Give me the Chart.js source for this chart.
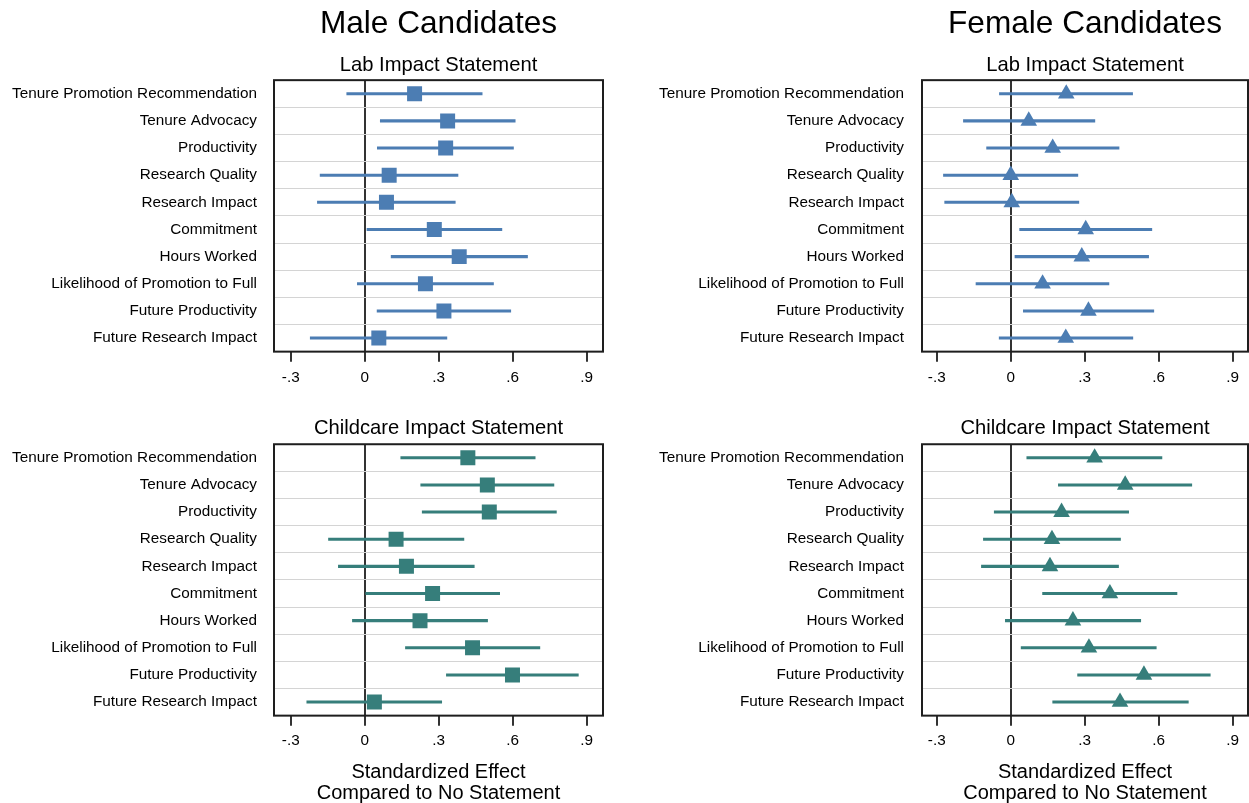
<!DOCTYPE html>
<html>
<head>
<meta charset="utf-8">
<script src="https://cdn.jsdelivr.net/npm/chart.js@4.4.0/dist/chart.umd.min.js"></script>
<style>
  body { margin: 0; background: #fff; width: 1249px; height: 803px; position: relative; overflow: hidden; }
  canvas { position: absolute; }
</style>
</head>
<body>
<canvas id="maleLab" width="606" height="395" style="left:0;top:0"></canvas>
<canvas id="femaleLab" width="609" height="395" style="left:640px;top:0"></canvas>
<canvas id="maleCare" width="606" height="411" style="left:0;top:395px"></canvas>
<canvas id="femaleCare" width="609" height="411" style="left:640px;top:395px"></canvas>
<script>
const categories = [
  'Tenure Promotion Recommendation', 'Tenure Advocacy', 'Productivity', 'Research Quality',
  'Research Impact', 'Commitment', 'Hours Worked', 'Likelihood of Promotion to Full',
  'Future Productivity', 'Future Research Impact'
]
const xTicks = [-0.3, 0, 0.3, 0.6, 0.9]

// male candidates, lab impact statement
const maleLabEst = [0.202, 0.336, 0.328, 0.099, 0.088, 0.282, 0.383, 0.246, 0.321, 0.057]
const maleLabLo  = [-0.073, 0.063, 0.051, -0.181, -0.192, 0.009, 0.107, -0.030, 0.050, -0.221]
const maleLabHi  = [0.476, 0.610, 0.603, 0.378, 0.367, 0.556, 0.660, 0.522, 0.592, 0.333]

// female candidates, lab impact statement
const femaleLabEst = [0.225, 0.073, 0.170, 0.000, 0.004, 0.304, 0.288, 0.129, 0.315, 0.223]
const femaleLabLo  = [-0.046, -0.192, -0.098, -0.273, -0.268, 0.036, 0.017, -0.141, 0.051, -0.047]
const femaleLabHi  = [0.494, 0.341, 0.439, 0.272, 0.276, 0.572, 0.559, 0.398, 0.580, 0.495]

// male candidates, childcare impact statement
const maleCareEst = [0.418, 0.497, 0.505, 0.127, 0.169, 0.275, 0.224, 0.437, 0.599, 0.039]
const maleCareLo  = [0.146, 0.227, 0.233, -0.147, -0.107, 0.004, -0.050, 0.165, 0.331, -0.235]
const maleCareHi  = [0.691, 0.767, 0.777, 0.402, 0.444, 0.547, 0.498, 0.710, 0.866, 0.312]

// female candidates, childcare impact statement
const femaleCareEst = [0.340, 0.464, 0.206, 0.167, 0.159, 0.402, 0.252, 0.317, 0.540, 0.443]
const femaleCareLo  = [0.065, 0.193, -0.067, -0.111, -0.119, 0.129, -0.022, 0.042, 0.271, 0.170]
const femaleCareHi  = [0.613, 0.734, 0.478, 0.445, 0.437, 0.674, 0.527, 0.590, 0.809, 0.720]

const blue = '#4c7db3'
const teal = '#367e7b'
const fontFamily = "'Liberation Sans', Arial, Helvetica, sans-serif"

// frame around the plot region
const boxPlugin = {
  id: 'box',
  afterDraw(chart) {
    const { ctx, chartArea: a } = chart
    ctx.save()
    ctx.strokeStyle = '#1e1e1e'
    ctx.lineWidth = 2
    ctx.strokeRect(a.left, a.top, a.right - a.left, a.bottom - a.top)
    ctx.restore()
  }
}

function fmtTick(v) {
  if (Math.abs(v) < 1e-9) return '0'
  return (v < 0 ? '-' : '') + String(Math.abs(v).toFixed(1)).replace(/^0/, '')
}

function makePanel(id, cfg) {
  const top = cfg.top
  const plugins = {
    legend: { display: false },
    tooltip: { enabled: false },
    title: {
      display: true,
      text: top ? cfg.heading : cfg.subheading,
      fullSize: false,
      color: '#000',
      font: top ? { family: fontFamily, size: 31.6, weight: 'normal' } : { family: fontFamily, size: 20.2, weight: 'normal' },
      padding: top ? { top: 5, bottom: 7 } : { top: 21, bottom: 4 }
    }
  }
  if (top) {
    plugins.subtitle = {
      display: true,
      text: cfg.subheading,
      fullSize: false,
      color: '#000',
      font: { family: fontFamily, size: 20.2, weight: 'normal' },
      padding: { top: 3, bottom: 3 }
    }
  }
  const bars = cfg.lo.map((l, i) => [l, cfg.hi[i]])

  return new Chart(document.getElementById(id), {
    type: 'bar',
    data: {
      labels: categories,
      datasets: [
        {
          type: 'line',
          indexAxis: 'y',
          data: cfg.est,
          showLine: false,
          pointStyle: cfg.marker,
          pointRadius: cfg.marker === 'rect' ? 10.6 : 9.6,
          pointBackgroundColor: cfg.color,
          pointBorderWidth: 0,
          order: 0
        },
        {
          type: 'bar',
          indexAxis: 'y',
          data: bars,
          backgroundColor: cfg.color,
          barThickness: 2.4,
          borderWidth: 0,
          order: 1
        }
      ]
    },
    options: {
      indexAxis: 'y',
      responsive: false,
      animation: false,
      layout: { autoPadding: false, padding: { left: 0, right: cfg.padRight, top: 0, bottom: top ? 1 : 2 } },
      scales: {
        x: {
          type: 'linear',
          min: cfg.min,
          max: cfg.max,
          afterBuildTicks: scale => { scale.ticks = xTicks.map(v => ({ value: v })) },
          afterFit: scale => { scale.paddingLeft = 0; scale.paddingRight = 0 },
          border: { display: false },
          grid: {
            color: c => (c.tick && Math.abs(c.tick.value) < 1e-9 ? '#333' : 'rgba(0,0,0,0)'),
            lineWidth: 2,
            tickColor: '#333',
            tickWidth: 2,
            tickLength: 10
          },
          ticks: {
            color: '#000',
            padding: top ? 7 : 6,
            font: { family: fontFamily, size: 15.3 },
            callback: v => fmtTick(v)
          },
          title: {
            display: !top,
            text: ['Standardized Effect', 'Compared to No Statement'],
            color: '#000',
            font: { family: fontFamily, size: 20, lineHeight: 1.05 },
            padding: { top: 6, bottom: 0 }
          }
        },
        y: {
          type: 'category',
          offset: true,
          afterFit: scale => { scale.width = cfg.axisWidth },
          border: { display: false },
          grid: {
            offset: true,
            color: '#d4d4d4',
            lineWidth: 1,
            drawTicks: false,
            tickLength: 0
          },
          ticks: {
            color: '#000',
            padding: cfg.labelPad,
            font: { family: fontFamily, size: 15.3 }
          }
        }
      },
      plugins
    },
    plugins: [boxPlugin]
  })
}

const left = { axisWidth: 274, labelPad: 17, padRight: 3, min: -0.368, max: 0.966 }
const right = { axisWidth: 282, labelPad: 18, padRight: 1, min: -0.36, max: 0.962 }

makePanel('maleLab', { ...left, top: true, heading: 'Male Candidates', subheading: 'Lab Impact Statement',
  est: maleLabEst, lo: maleLabLo, hi: maleLabHi, color: blue, marker: 'rect' })
makePanel('femaleLab', { ...right, top: true, heading: 'Female Candidates', subheading: 'Lab Impact Statement',
  est: femaleLabEst, lo: femaleLabLo, hi: femaleLabHi, color: blue, marker: 'triangle' })
makePanel('maleCare', { ...left, top: false, subheading: 'Childcare Impact Statement',
  est: maleCareEst, lo: maleCareLo, hi: maleCareHi, color: teal, marker: 'rect' })
makePanel('femaleCare', { ...right, top: false, subheading: 'Childcare Impact Statement',
  est: femaleCareEst, lo: femaleCareLo, hi: femaleCareHi, color: teal, marker: 'triangle' })
</script>
</body>
</html>
